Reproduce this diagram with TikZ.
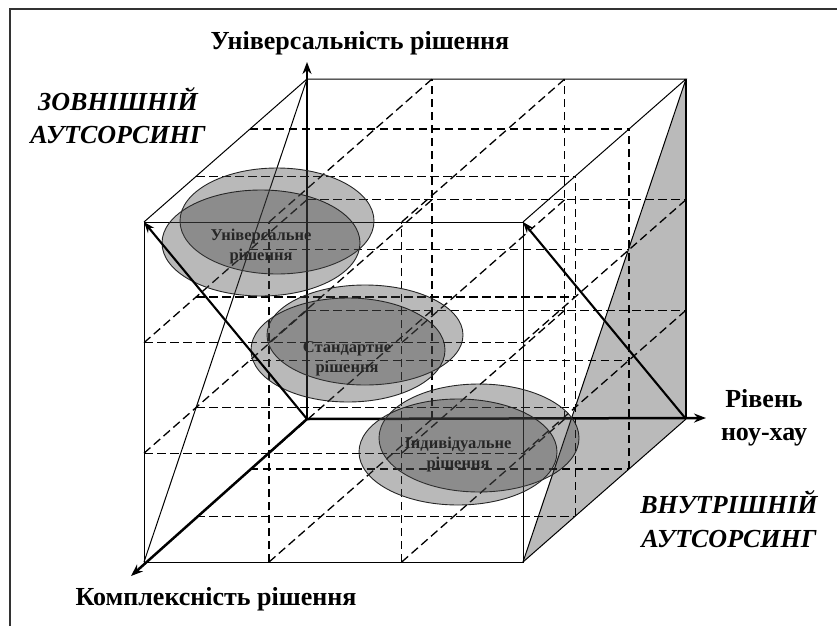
\documentclass[tikz,border=0pt]{standalone}
\usepackage{fontspec}
\setmainfont{Liberation Serif}
\usetikzlibrary{arrows.meta}
\begin{document}
\begin{tikzpicture}[x=1pt,y=-1pt,
  gridline/.style={dash pattern=on 8.5pt off 4.5pt, line width=1.3pt},
  edgeline/.style={line width=1pt},
  axisline/.style={line width=2.5pt, -{Stealth[length=12pt,width=9pt]}},
  thickarrow/.style={line width=2.1pt, -{Stealth[length=11pt,width=8pt]}},
  ellA/.style={fill=black!75, fill opacity=0.37, draw=black!85, line width=0.9pt},
  lbl/.style={font=\fontsize{26}{33}\selectfont\bfseries, anchor=base, inner sep=0pt},
  lbli/.style={font=\fontsize{26}{33}\selectfont\bfseries\itshape, anchor=base, inner sep=0pt},
  inl/.style={font=\fontsize{16.5}{20}\selectfont\bfseries, anchor=base, text=black!85, inner sep=0pt},
]
\useasboundingbox (0,0) rectangle (837,626);
\coordinate (frA) at (10,626);
\coordinate (frB) at (10,9);
\coordinate (frC) at (837,9);
\draw[line width=1.2pt, black!80] (frA) -- (frB) -- (frC);

\def\uA{0.33}\def\uB{0.68}
\def\vA{0.32}\def\vB{0.645}
\def\wA{0.32}\def\wB{0.65}

\begin{scope}[shift={(144,562)}, x={(379pt,0pt)}, y={(0pt,340pt)}, z={(163pt,143pt)}]
  \coordinate (FBL) at (0,0,0);
  \coordinate (FBR) at (1,0,0);
  \coordinate (FTL) at (0,1,0);
  \coordinate (FTR) at (1,1,0);
  \coordinate (BBL) at (0,0,1);
  \coordinate (BBR) at (1,0,1);
  \coordinate (BTL) at (0,1,1);
  \coordinate (BTR) at (1,1,1);
  % shaded triangle on the right face
  \fill[black!27] (BTR) -- (BBR) -- (FBR) -- cycle;
  % u-lines
  \foreach \v/\w in {0/\wA,0/\wB,\vA/0,\vA/\wA,\vA/\wB,\vA/1,\vB/0,\vB/\wA,\vB/\wB,\vB/1,1/\wA,1/\wB}
    \draw[gridline] (0,\v,\w) -- (1,\v,\w);
  % w-lines
  \foreach \u/\v in {0/\vA,0/\vB,\uA/0,\uA/\vA,\uA/\vB,\uA/1,\uB/0,\uB/\vA,\uB/\vB,\uB/1,1/\vA,1/\vB}
    \draw[gridline] (\u,\v,0) -- (\u,\v,1);
  % v-lines
  \foreach \u/\w in {\uA/0,\uB/0,\uA/1,\uB/1,1/\wA,1/\wB}
    \draw[gridline] (\u,0,\w) -- (\u,1,\w);
\end{scope}

% solid edges
\draw[edgeline] (FBL) -- (FBR) -- (FTR) -- (FTL) -- cycle;
\draw[edgeline] (FTL) -- (BTL) -- (BTR) -- (FTR);
\draw[edgeline] (BBR) -- (FBR);
\draw[line width=1.7pt] (BTR) -- (BBR);
\draw[edgeline] (BTL) -- (FBL);
\draw[edgeline] (BTR) -- (FBR);

% axes
\coordinate (axU) at (307,62);
\coordinate (axR) at (706,418);
\coordinate (axD) at (131,576);
\draw[axisline] (BBL) -- (axU);
\draw[axisline] (BBL) -- (axR);
\draw[axisline] (BBL) -- (axD);

% ellipses
\draw[ellA] (277,221) ellipse [x radius=97pt, y radius=53pt];
\draw[ellA] (261,243) ellipse [x radius=99pt, y radius=53pt];
\draw[ellA] (365,335) ellipse [x radius=98pt, y radius=50pt];
\draw[ellA] (348,350) ellipse [x radius=97pt, y radius=52pt];
\draw[ellA] (479,438) ellipse [x radius=100pt, y radius=54pt];
\draw[ellA] (458,452) ellipse [x radius=99pt, y radius=53pt];

% thick arrows
\draw[thickarrow] (BBL) -- (FTL);
\draw[thickarrow] (BBR) -- (FTR);

% inner texts
\node[inl] (t1a) at (261,240) {Універсальне};
\node[inl] (t1b) at (261,260) {рішення};
\node[inl] (t2a) at (347,352) {Стандартне};
\node[inl] (t2b) at (347,372) {рішення};
\node[inl] (t3a) at (458,448) {Індивідуальне};
\node[inl] (t3b) at (458,468) {рішення};

% labels
\node[lbl] (top) at (360,50) {Універсальність рішення};
\node[lbli] (ext1) at (118,110) {ЗОВНІШНІЙ};
\node[lbli] (ext2) at (118,143) {АУТСОРСИНГ};
\node[lbl] (kn1) at (764,407) {Рівень};
\node[lbl] (kn2) at (764,440) {ноу-хау};
\node[lbli] (int1) at (729,513) {ВНУТРІШНІЙ};
\node[lbli] (int2) at (729,547) {АУТСОРСИНГ};
\node[lbl] (bot) at (216,605) {Комплексність рішення};
\end{tikzpicture}
\end{document}
